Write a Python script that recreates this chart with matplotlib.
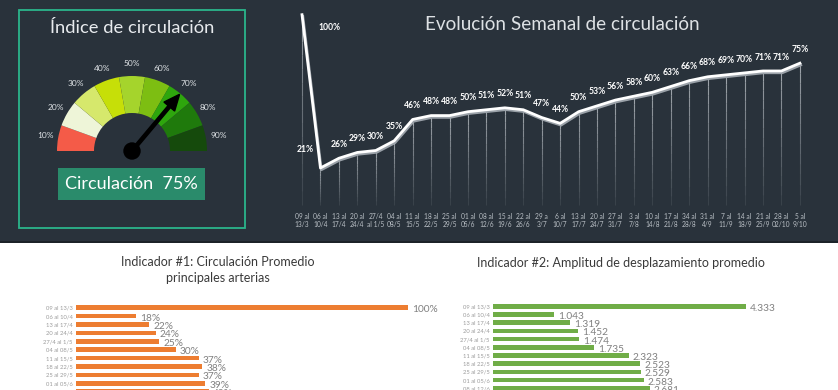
import numpy as np
import matplotlib
matplotlib.use("Agg")
import matplotlib.pyplot as plt
import matplotlib.patheffects as pe
from matplotlib.patches import Wedge, Rectangle, Circle, FancyArrow
from matplotlib.collections import LineCollection

plt.rcParams['font.family'] = ['Lato', 'DejaVu Sans']

# --- datos ---
gauge_etiquetas = ['10%', '20%', '30%', '40%', '50%', '60%', '70%', '80%', '90%']
gauge_colores = ['#f45b48', '#eef5d8', '#d6e86c', '#c6df08', '#a5d42c',
                 '#7dbe12', '#2ea60d', '#1f7a0c', '#154a0c']
indice = 75

semanas = ["09 al\n13/3", "06 al\n10/4", "13 al\n17/4", "20 al\n24/4", "27/4\nal 1/5",
           "04 al\n08/5", "11 al\n15/5", "18 al\n22/5", "25 al\n29/5", "01 al\n05/6",
           "08 al\n12/6", "15 al\n19/6", "22 al\n26/6", "29 a\n3/7", "6 al\n10/7",
           "13 al\n17/7", "20 al\n24/7", "27 al\n31/7", "3 al\n7/8", "10 al\n14/8",
           "17 al\n21/8", "34 al\n28/8", "31 al\n4/9", "7 al\n11/9", "14 al\n18/9",
           "21 al\n25/9", "28 al\n02/10", "5 al\n9/10"]
circulacion = [100, 21, 26, 29, 30, 35, 46, 48, 48, 50, 51, 52, 51, 47, 44,
               50, 53, 56, 58, 60, 63, 66, 68, 69, 70, 71, 71, 75]

ind_semanas = ["09 al 13/3", "06 al 10/4", "13 al 17/4", "20 al 24/4", "27/4 al 1/5",
               "04 al 08/5", "11 al 15/5", "18 al 22/5", "25 al 29/5", "01 al 05/6",
               "08 al 12/6"]
ind1_valores = [100, 18, 22, 24, 25, 30, 37, 38, 37, 39, 40]
ind2_valores = [4.333, 1.043, 1.319, 1.452, 1.474, 1.735, 2.323, 2.523, 2.529, 2.583, 2.681]

W, H = 838, 390
fig = plt.figure(figsize=(W / 100, H / 100), dpi=100)
fig.patch.set_facecolor('white')


def caja(x0, y0, x1, y1):
    # pixeles (origen arriba-izquierda) -> fraccion de figura
    return [x0 / W, 1 - y1 / H, (x1 - x0) / W, (y1 - y0) / H]


fondo = '#29323b'
fig.patches.append(Rectangle((0, 1 - 241 / H), 1, 241 / H, transform=fig.transFigure,
                             facecolor=fondo, edgecolor='none', zorder=-2))
fig.patches.append(Rectangle((0, 1 - 243 / H), 1, 2 / H, transform=fig.transFigure,
                             facecolor='#1c2329', edgecolor='none', zorder=-2))

# --- panel indicador ---
ag = fig.add_axes(caja(0, 0, 250, 242))
ag.set_xlim(0, 250)
ag.set_ylim(0, 242)
ag.axis('off')
cx, cy = 132, 242 - 151
r_ext, r_int = 75, 38
for i, (lab, col) in enumerate(zip(gauge_etiquetas, gauge_colores)):
    t2 = 180 - 20 * i
    ag.add_patch(Wedge((cx, cy), r_ext, t2 - 20, t2, width=r_ext - r_int,
                       facecolor=col, edgecolor='none'))
    a = np.radians(t2 - 10)
    ag.text(cx + 88 * np.cos(a), cy + 88 * np.sin(a), lab, fontsize=6,
            color='#dfe3e6', ha='center', va='center')

# la aguja apunta al centro del tramo "70%"
ang = np.radians(200 - 2 * indice)
ag.add_patch(FancyArrow(cx, cy, 74 * np.cos(ang), 74 * np.sin(ang), width=3.2,
                        head_width=14, head_length=16, length_includes_head=True,
                        color='black'))
ag.add_patch(Circle((cx, cy), 8, color='black'))

ag.add_patch(Rectangle((58, 242 - 200), 147, 32, facecolor='#2a8b6b', edgecolor='none'))
ag.text(131.5, 242 - 184, f"Circulación  {indice}%", fontsize=13, color='white',
        ha='center', va='center')
ag.add_patch(Rectangle((19, 242 - 228), 226, 218, fill=False, edgecolor='#2bb58b', lw=1.3))
ag.text(132, 242 - 28, "Índice de circulación", fontsize=13.2, color='#e8ebee',
        ha='center', va='center')

# --- evolucion semanal ---
paso = 18.44
al = fig.add_axes(caja(302 - paso / 2, 5, 302 + paso * 27.5, 208.7))
al.set_facecolor('none')
x = np.arange(len(circulacion))
al.set_xlim(-0.5, len(circulacion) - 0.5)
al.set_ylim(0, 105)
for s in al.spines.values():
    s.set_visible(False)
al.set_yticks([])
al.set_xticks(x, semanas, fontsize=4.8, color='#b9bfc5', linespacing=1.15)
al.tick_params(axis='x', length=0, pad=3)

segs, alphas = [], []
n = 14
for xi, v in zip(x, circulacion):
    ys = np.linspace(2, v, n + 1)
    for k in range(n):
        segs.append([(xi, ys[k]), (xi, ys[k + 1])])
        alphas.append(0.05 + 0.6 * (k + 1) / n)
cols = [(0.85, 0.87, 0.89, a) for a in alphas]
al.add_collection(LineCollection(segs, colors=cols, linewidths=0.8))

al.plot(x, circulacion, color='white', lw=2.0, solid_joinstyle='round',
        path_effects=[pe.SimpleLineShadow(offset=(0.6, -1.3), shadow_color='#9aa1a8', alpha=1),
                      pe.Normal()])

for i, v in enumerate(circulacion):
    if i == 0:
        off = (20, -9.5)
    elif i == 1:
        off = (-11, 13)
    else:
        off = (0, 10)
    al.annotate(f"{v}%", (i, v), xytext=off, textcoords='offset points', ha='center',
                va='center', fontsize=6.2, fontweight='bold', color='white')

fig.text(562 / W, 1 - 25 / H, "Evolución Semanal de circulación", fontsize=13.6,
         color='#dde1e4', ha='center', va='center')


# --- barras ---
def barras(caja_px, valores, color, fmt, titulo, tx, ty):
    ax = fig.add_axes(caja(*caja_px))
    ax.set_facecolor('none')
    y = np.arange(len(valores))
    ax.barh(y, valores, height=0.55, color=color)
    ax.set_ylim(len(valores) - 0.5, -0.5)
    ax.set_xlim(0, max(valores))
    for s in ax.spines.values():
        s.set_visible(False)
    ax.set_xticks([])
    ax.set_yticks(y, ind_semanas, fontsize=4.2, color='#9c9c9c')
    ax.tick_params(axis='y', length=0, pad=2.5)
    for yi, v in zip(y, valores):
        ax.annotate(fmt(v), (v, yi), xytext=(3, -1.5), textcoords='offset points',
                    ha='left', va='center', fontsize=7.3, color='#808080',
                    annotation_clip=False)
    fig.text(tx / W, 1 - ty / H, titulo, fontsize=9, color='#3a3a3a',
             ha='center', va='center', linespacing=1.35)


barras((76, 303.5, 408, 303.5 + 8.4 * len(ind1_valores)), ind1_valores, '#ed7d31',
       lambda v: f"{v}%", "Indicador #1: Circulación Promedio\nprincipales arterias", 218, 270)
barras((493, 302.2, 746, 302.2 + 8.2 * len(ind2_valores)), ind2_valores, '#70ad47',
       lambda v: f"{v:.3f}", "Indicador #2: Amplitud de desplazamiento promedio", 621, 263)

fig.savefig("out.png", dpi=100, facecolor=fig.get_facecolor())
